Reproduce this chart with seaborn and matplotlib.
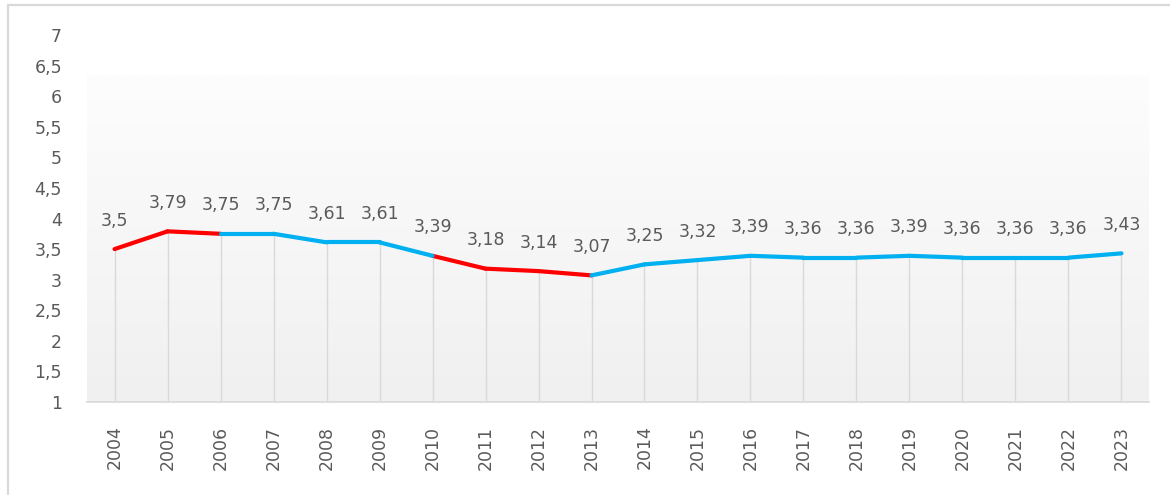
import numpy as np
import pandas as pd
import matplotlib
matplotlib.use("Agg")
import matplotlib.pyplot as plt
import seaborn as sns
from matplotlib.colors import LinearSegmentedColormap

years = [2004, 2005, 2006, 2007, 2008, 2009, 2010, 2011, 2012, 2013,
         2014, 2015, 2016, 2017, 2018, 2019, 2020, 2021, 2022, 2023]
values = [3.5, 3.79, 3.75, 3.75, 3.61, 3.61, 3.39, 3.18, 3.14, 3.07,
          3.25, 3.32, 3.39, 3.36, 3.36, 3.39, 3.36, 3.36, 3.36, 3.43]
# group of each segment between consecutive years
segment_group = ["red", "red", "blue", "blue", "blue", "blue", "red", "red", "red",
                 "blue", "blue", "blue", "blue", "blue", "blue", "blue", "blue", "blue", "blue"]
y_ticks = [1, 1.5, 2, 2.5, 3, 3.5, 4, 4.5, 5, 5.5, 6, 6.5, 7]

sns.set_theme(style="white")
plt.rcParams['font.family'] = ['DejaVu Sans']

W, H = 1170, 495
fig = plt.figure(figsize=(W / 100, H / 100), dpi=100)
fig.patch.set_facecolor("white")

# outer border (left and top visible, rest beyond the image)
fig.add_artist(plt.Rectangle((7.5 / W, -0.1), 1.2, 1 - 5.5 / H + 0.1, transform=fig.transFigure,
                             fill=False, edgecolor="#d9d9d9", linewidth=1.6))

left, right, bottom, top = 87 / W, 1149 / W, 1 - 402 / H, 1 - 35 / H
ax = fig.add_axes([left, bottom, right - left, top - bottom])

pos = np.arange(len(years))
xmin, xmax = -0.52, len(years) - 0.48

# gradient background of the plot area
cmap = LinearSegmentedColormap.from_list("g", ["#f0f0f0", "#fdfdfd"])
ax.imshow(np.linspace(0, 1, 256).reshape(-1, 1), aspect="auto", cmap=cmap,
          extent=[xmin, xmax, 1, 6.33], origin="lower", zorder=0)

# drop lines
ax.vlines(pos, 1, values, color="#d9d9d9", linewidth=1.0, zorder=1)

# segments
rows = []
for i, g in enumerate(segment_group):
    rows.append({"seg": i, "group": g, "x": pos[i], "y": values[i]})
    rows.append({"seg": i, "group": g, "x": pos[i + 1], "y": values[i + 1]})
df = pd.DataFrame(rows)
sns.lineplot(data=df, x="x", y="y", hue="group", units="seg", estimator=None,
             palette={"red": "#ff0000", "blue": "#00b0f0"}, linewidth=3.0,
             legend=False, ax=ax, zorder=3, sort=False)

txt = "#5a5a5a"
for x, v in zip(pos, values):
    ax.annotate(f"{v:g}".replace(".", ","), (x, v), xytext=(0, 14),
                textcoords="offset points", ha="center", va="bottom",
                fontsize=12.5, color=txt, zorder=4)

ax.set_xlim(xmin, xmax)
ax.set_ylim(1, 7)
ax.set_yticks(y_ticks)
ax.set_yticklabels([f"{t:g}".replace(".", ",") for t in y_ticks], color=txt, fontsize=12.5)
ax.set_xticks(pos)
ax.set_xticklabels([str(y) for y in years], rotation=90, color=txt, fontsize=12.5)
ax.tick_params(axis="both", length=0)
ax.tick_params(axis="y", pad=18)
ax.tick_params(axis="x", pad=17)
ax.set_xlabel("")
ax.set_ylabel("")
for s in ["top", "right", "left"]:
    ax.spines[s].set_visible(False)
ax.spines["bottom"].set_color("#d9d9d9")
ax.spines["bottom"].set_linewidth(1.2)
ax.grid(False)
ax.set_facecolor("none")

fig.savefig("out.png", dpi=100)
